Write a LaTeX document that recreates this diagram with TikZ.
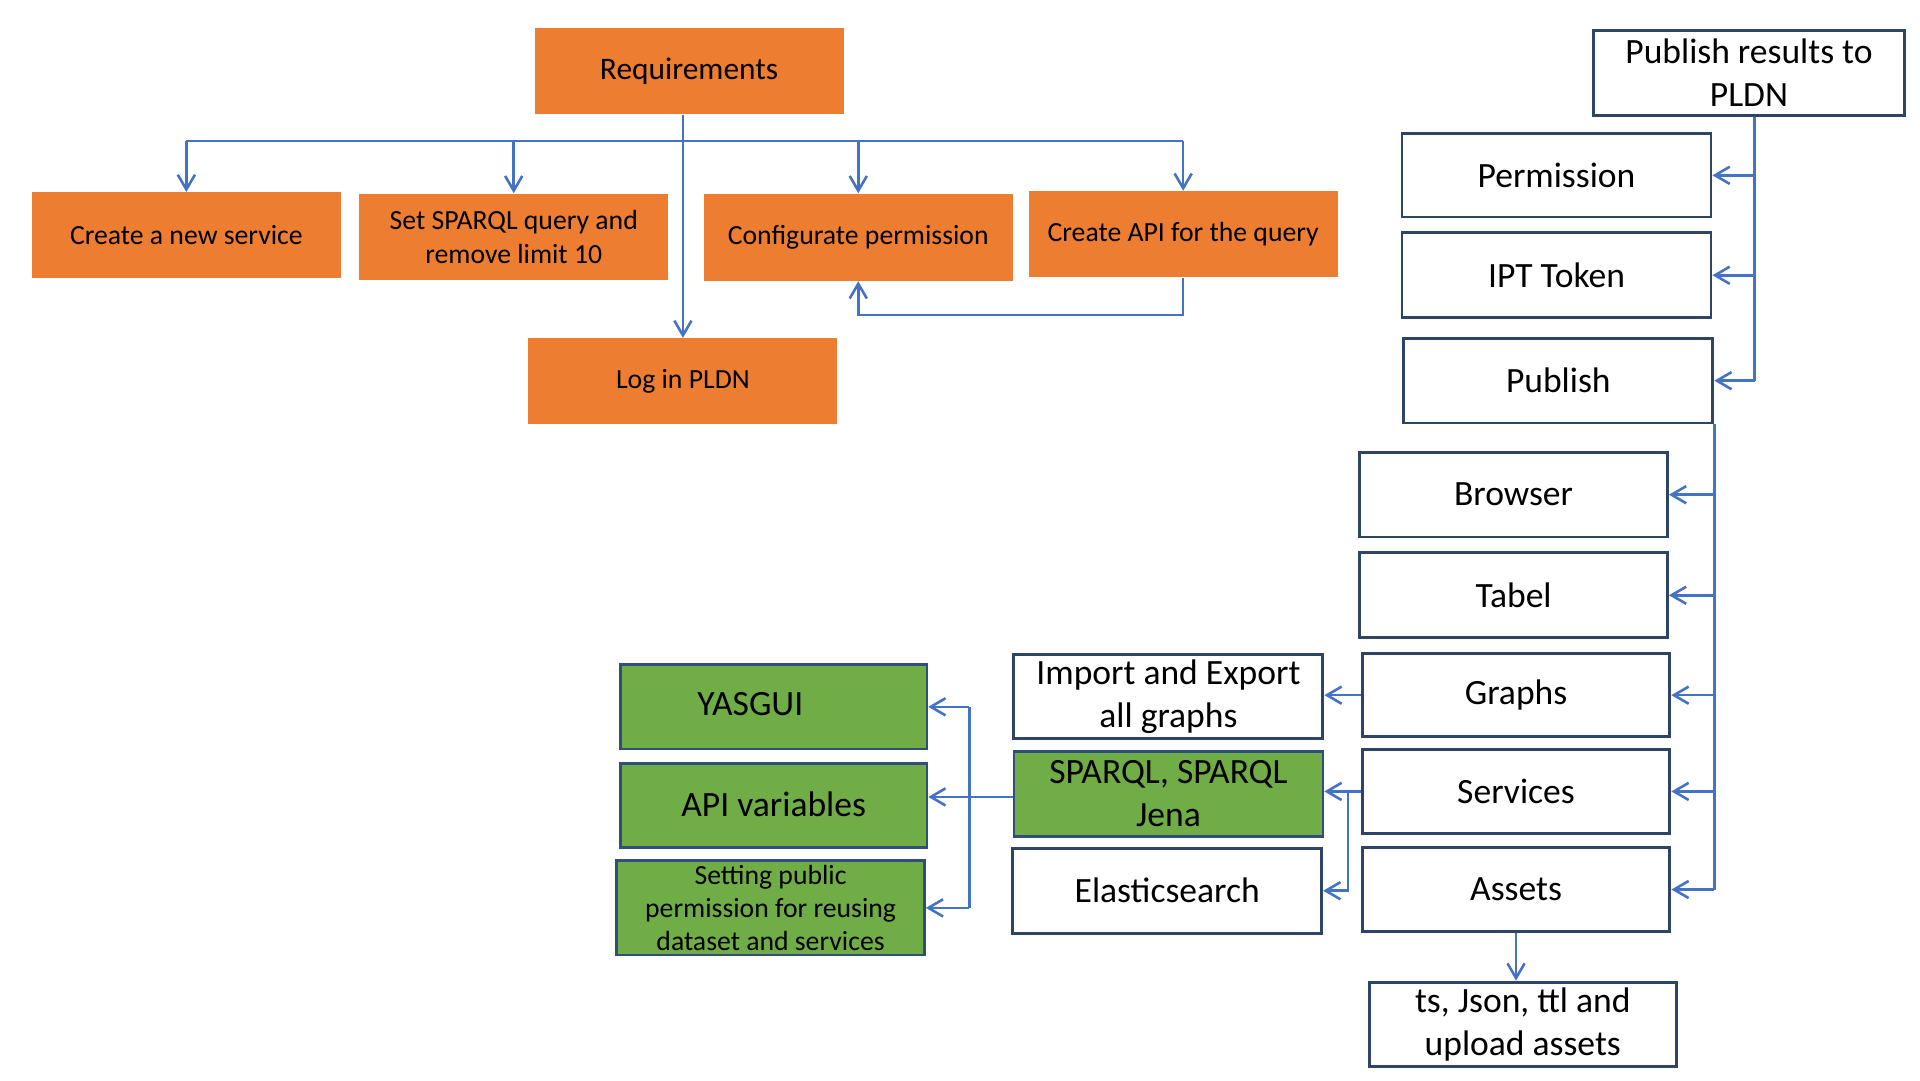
\documentclass[tikz,border=0pt]{standalone}
\usepackage{fontspec}
\setmainfont{Carlito}
\usetikzlibrary{arrows.meta}
\definecolor{orangeC}{HTML}{ED7D31}
\definecolor{greenC}{HTML}{70AD47}
\definecolor{blueC}{HTML}{4472C4}
\definecolor{navyC}{HTML}{2E4467}
\definecolor{gnavyC}{HTML}{2F4E7A}
\tikzset{
  obox/.style={fill=orangeC, draw=none, inner sep=0pt, align=center,
    font=\fontsize{11.3}{13.8}\selectfont},
  wbox/.style={draw=navyC, line width=1.2pt, fill=white, inner sep=0pt, align=center,
    font=\fontsize{14.5}{17.4}\selectfont},
  gbox/.style={wbox, fill=greenC, draw=gnavyC, line width=1.1pt},
  sz/.style 2 args={minimum width=#1*0.5pt, minimum height=#2*0.5pt},
  conn/.style={draw=blueC, line width=1.05pt},
  arr/.style={conn, -{Straight Barb[length=6pt,width=7pt,line width=1.05pt]}},
}
\begin{document}
\begin{tikzpicture}[x=0.5pt,y=-0.5pt]
\useasboundingbox[fill=white] (0,0) rectangle (1566,881);

% orange boxes
\node[obox, sz={252}{70}, font=\fontsize{12.8}{15.6}\selectfont] (req) at (562,58) {Requirements};
\node[obox, sz={252}{70}] (cns) at (152,192) {Create a new service};
\node[obox, sz={252}{70}] (sq) at (419,193) {Set SPARQL query and\\remove limit 10};
\node[obox, sz={252}{71}] (conf) at (700,193.5) {Configurate permission};
\node[obox, sz={252}{70}] (api) at (965,191) {Create API for the query};
\node[obox, sz={252}{70}] (login) at (557,311) {Log in PLDN};

% right white boxes
\node[wbox, sz={253}{69}] (pub) at (1426.5,59.5) {Publish results to\\PLDN};
\node[wbox, sz={252}{68}] (perm) at (1269.5,143) {Permission};
\node[wbox, sz={252}{69}] (ipt) at (1269.5,224.5) {IPT Token};
\node[wbox, sz={252}{69}] (publish) at (1271,310.5) {Publish};
\node[wbox, sz={251}{69}] (browser) at (1234.5,403.5) {Browser};
\node[wbox, sz={251}{69}] (tabel) at (1234.5,485.5) {Tabel};
\node[wbox, sz={251}{68}] (graphs) at (1236.5,567) {\raisebox{-2pt}{Graphs}};
\node[wbox, sz={251}{69}] (services) at (1236.5,645.5) {Services};
\node[wbox, sz={251}{69}] (assets) at (1236.5,725.5) {Assets};
\node[wbox, sz={250}{69}] (ts) at (1242,835.5) {ts, Json, ttl and\\upload assets};
\node[wbox, sz={252}{69}] (import) at (953,568) {Import and Export\\all graphs};
\node[gbox, sz={252}{69}] (sj) at (953,647.5) {SPARQL, SPARQL\\Jena};
\node[wbox, sz={252}{69}] (elastic) at (952,726.5) {Elasticsearch};

% green boxes
\node[gbox, sz={250}{69}] (yasgui) at (631,576.5) {\raisebox{2pt}{YASGUI}\hspace*{19pt}};
\node[gbox, sz={250}{68}] (apivar) at (631,657) {\raisebox{1.5pt}{API variables}};
\node[gbox, sz={251}{77}, font=\fontsize{11.3}{13.6}\selectfont] (setting) at (628.5,740.5) {Setting public\\permission for reusing\\dataset and services};

% coordinates for connector routing
\coordinate (hy) at (0,115);
\coordinate (fb) at (0,257);
\coordinate (vx1) at (1431,0);
\coordinate (vx3) at (1099.5,0);
\coordinate (vx4) at (790.6,0);
\coordinate (ay) at (0,650);

% top tree
\draw[arr] (req.south -| login.north) -- (login.north);
\draw[conn] (cns.north |- hy) -- (api.north |- hy);
\draw[arr] (cns.north |- hy) -- (cns.north);
\draw[arr] (sq.north |- hy) -- (sq.north);
\draw[arr] (conf.north |- hy) -- (conf.north);
\draw[arr] (api.north |- hy) -- (api.north);
\draw[arr] (api.south) -- (api.south |- fb) -- (conf.south |- fb) -- (conf.south);

% publish branch
\draw[conn] (pub.south -| vx1) -- (vx1 |- publish.east);
\draw[arr] (vx1 |- perm.east) -- (perm.east);
\draw[arr] (vx1 |- ipt.east) -- (ipt.east);
\draw[arr] (vx1 |- publish.east) -- (publish.east);

% publish -> features
\draw[conn] (publish.south east) -- (publish.south east |- assets.east);
\draw[arr] (publish.south east |- browser.east) -- (browser.east);
\draw[arr] (publish.south east |- tabel.east) -- (tabel.east);
\draw[arr] (publish.south east |- graphs.east) -- (graphs.east);
\draw[arr] (publish.south east |- services.east) -- (services.east);
\draw[arr] (publish.south east |- assets.east) -- (assets.east);

% middle
\draw[arr] (graphs.west) -- (graphs.west -| import.east);
\draw[arr] (services.west) -- (services.west -| sj.east);
\draw[arr] (services.west -| vx3) -- (vx3 |- elastic.east) -- (elastic.east);
\draw[arr] (assets.south) -- (assets.south |- ts.north);

% green side
\draw[arr] (sj.west |- ay) -- (apivar.east |- ay);
\draw[conn] (vx4 |- yasgui.east) -- (vx4 |- setting.east);
\draw[arr] (vx4 |- yasgui.east) -- (yasgui.east);
\draw[arr] (vx4 |- setting.east) -- (setting.east);
\end{tikzpicture}
\end{document}
